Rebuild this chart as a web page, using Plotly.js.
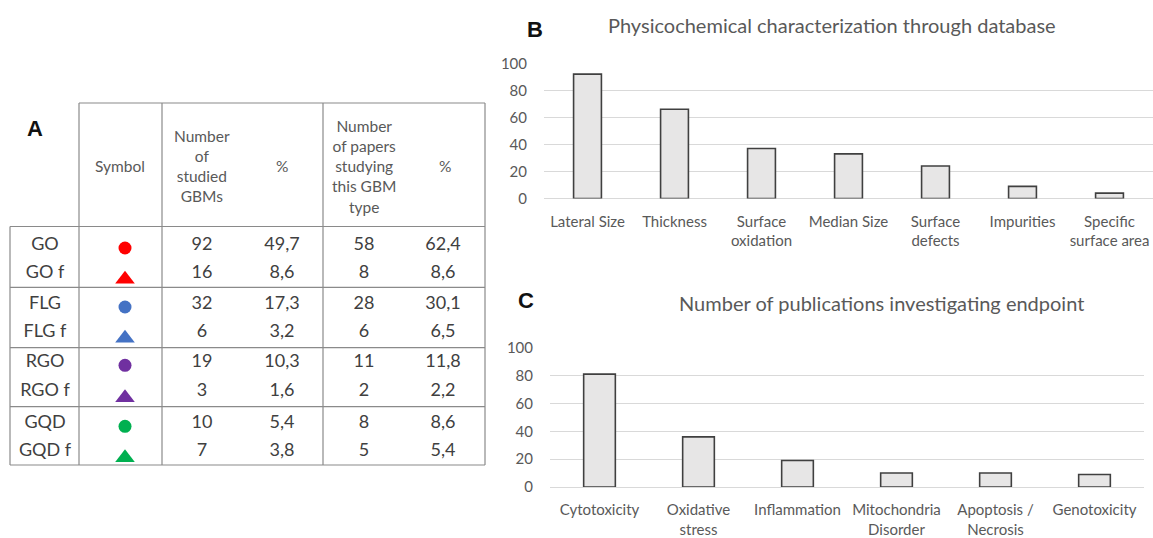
<!DOCTYPE html>
<html>
<head>
<meta charset="utf-8">
<script src="https://cdn.plot.ly/plotly-3.0.1.min.js"></script>
<style>
  html, body { margin: 0; padding: 0; background: #ffffff; }
  #chart { width: 1153px; height: 538px; }
</style>
</head>
<body>
<div id="chart"></div>
<script>
// ---------------- DATA ----------------
// Panel A (table)
const gbmTypes = ['GO', 'GO f', 'FLG', 'FLG f', 'RGO', 'RGO f', 'GQD', 'GQD f'];
const symbolShapes = ['circle', 'triangle-up', 'circle', 'triangle-up', 'circle', 'triangle-up', 'circle', 'triangle-up'];
const symbolColors = ['#FF0000', '#FF0000', '#4472C4', '#4472C4', '#7030A0', '#7030A0', '#00B050', '#00B050'];
const studiedGBMs = [92, 16, 32, 6, 19, 3, 10, 7];
const studiedPct = ['49,7', '8,6', '17,3', '3,2', '10,3', '1,6', '5,4', '3,8'];
const papersStudying = [58, 8, 28, 6, 11, 2, 8, 5];
const papersPct = ['62,4', '8,6', '30,1', '6,5', '11,8', '2,2', '8,6', '5,4'];
const tableHeaders = ['Symbol', 'Number<br>of<br>studied<br>GBMs', '%', 'Number<br>of papers<br>studying<br>this GBM<br>type', '%'];

// Panel B
const physCategories = ['Lateral Size', 'Thickness', 'Surface<br>oxidation', 'Median Size', 'Surface<br>defects', 'Impurities', 'Specific<br>surface area'];
const physValues = [92, 66, 37, 33, 24, 9, 4];

// Panel C
const endpointCategories = ['Cytotoxicity', 'Oxidative<br>stress', 'Inflammation', 'Mitochondria<br>Disorder', 'Apoptosis /<br>Necrosis', 'Genotoxicity'];
const endpointValues = [81, 36, 19, 10, 10, 9];

const yTicks = [0, 20, 40, 60, 80, 100];

// ---------------- LAYOUT CONSTANTS ----------------
const W = 1153, H = 538;
const px = x => x / W;
const py = y => 1 - y / H;

// table geometry (pixel-like coordinates on the table's own axes)
const colX = { name: 45, symbol: 125, studied: 202, studiedPct: 282, papers: 364, papersPct: 443 };
const rowY = [245, 273.3, 304, 332.3, 362.3, 391.7, 423.3, 451.7];
const headerX = [120, 202, 282, 364, 445];
const headerY = 166;
const markerOffset = { 'circle': 3, 'triangle-up': 6 };

const tableFont = { family: 'Lato, "Open Sans", sans-serif', size: 18, color: '#404040' };
const headerFont = { family: 'Lato, "Open Sans", sans-serif', size: 15.5, color: '#595959' };
const axisFont = { family: 'Lato, "Open Sans", sans-serif', size: 15, color: '#595959' };

function textTrace(xPos, texts) {
  return {
    type: 'scatter', mode: 'text', xaxis: 'x3', yaxis: 'y3',
    x: texts.map(() => xPos), y: rowY.slice(0, texts.length),
    text: texts.map(String), textposition: 'middle center',
    textfont: tableFont, hoverinfo: 'skip', showlegend: false
  };
}

const traces = [
  {
    type: 'bar', x: physCategories, y: physValues, xaxis: 'x', yaxis: 'y',
    marker: { color: '#E7E6E6', line: { color: '#404040', width: 1.6 } },
    showlegend: false, hoverinfo: 'x+y'
  },
  {
    type: 'bar', x: endpointCategories, y: endpointValues, xaxis: 'x2', yaxis: 'y2',
    marker: { color: '#E7E6E6', line: { color: '#404040', width: 1.6 } },
    showlegend: false, hoverinfo: 'x+y'
  },
  textTrace(colX.name, gbmTypes),
  textTrace(colX.studied, studiedGBMs),
  textTrace(colX.studiedPct, studiedPct),
  textTrace(colX.papers, papersStudying),
  textTrace(colX.papersPct, papersPct),
  {
    type: 'scatter', mode: 'markers', xaxis: 'x3', yaxis: 'y3',
    x: gbmTypes.map(() => colX.symbol),
    y: rowY.map((y, i) => y + markerOffset[symbolShapes[i]]),
    marker: {
      symbol: symbolShapes, color: symbolColors, opacity: 1,
      size: symbolShapes.map(s => s === 'circle' ? 13 : 17),
      line: { width: 0 }
    },
    opacity: 1,
    text: gbmTypes, hoverinfo: 'text', showlegend: false
  }
];

// table lines
const lineStyle = { color: '#8a8a8a', width: 1.2 };
const hLines = [
  [103, 79, 485], [226.5, 10, 485], [287.3, 10, 485], [347.7, 10, 485], [406.7, 10, 485], [465, 10, 485]
];
const vLines = [
  [10, 226.5, 465], [79, 103, 465], [162, 103, 465], [323, 103, 465], [485, 103, 465]
];
const shapes = [];
hLines.forEach(([y, x0, x1]) => shapes.push({ type: 'line', xref: 'x3', yref: 'y3', x0, x1, y0: y, y1: y, line: lineStyle }));
vLines.forEach(([x, y0, y1]) => shapes.push({ type: 'line', xref: 'x3', yref: 'y3', x0: x, x1: x, y0, y1, line: lineStyle }));

const annotations = [];
tableHeaders.forEach((t, i) => annotations.push({
  xref: 'x3', yref: 'y3', x: headerX[i], y: headerY, text: t, showarrow: false,
  xanchor: 'center', yanchor: 'middle', align: 'center', font: headerFont
}));
const letterFont = { family: '"Liberation Sans", Arial, sans-serif', size: 22, color: '#111111' };
annotations.push({ xref: 'paper', yref: 'paper', x: px(35), y: py(128), text: '<b>A</b>', showarrow: false, xanchor: 'center', yanchor: 'middle', font: letterFont });
annotations.push({ xref: 'paper', yref: 'paper', x: px(535), y: py(29), text: '<b>B</b>', showarrow: false, xanchor: 'center', yanchor: 'middle', font: letterFont });
annotations.push({ xref: 'paper', yref: 'paper', x: px(526), y: py(300), text: '<b>C</b>', showarrow: false, xanchor: 'center', yanchor: 'middle', font: letterFont });
const titleFont = { family: 'Lato, "Open Sans", sans-serif', size: 20, color: '#595959' };
annotations.push({ xref: 'paper', yref: 'paper', x: px(832), y: py(25), text: 'Physicochemical characterization through database', showarrow: false, xanchor: 'center', yanchor: 'middle', font: titleFont });
annotations.push({ xref: 'paper', yref: 'paper', x: px(881), y: py(303), text: 'Number of publications investigating endpoint', showarrow: false, xanchor: 'center', yanchor: 'middle', font: titleFont });

const catAxis = (domain, anchor) => ({
  domain, anchor, type: 'category', showgrid: false, showline: false, zeroline: false,
  ticks: '', tickfont: axisFont, ticklabelstandoff: 12, fixedrange: true, automargin: false
});
const valAxis = (domain, anchor) => ({
  domain, anchor, range: [0, 100], tickvals: yTicks, showgrid: true, gridcolor: '#D9D9D9', gridwidth: 1,
  zeroline: true, zerolinecolor: '#D9D9D9', zerolinewidth: 1, showline: false,
  ticks: '', tickfont: axisFont, ticklabelstandoff: 16, fixedrange: true, automargin: false
});

const layout = {
  width: W, height: H,
  margin: { l: 0, r: 0, t: 0, b: 0 },
  paper_bgcolor: '#ffffff', plot_bgcolor: 'rgba(0,0,0,0)',
  font: { family: 'Lato, "Open Sans", sans-serif', color: '#595959' },
  showlegend: false,
  bargap: 0.68,
  xaxis: catAxis([px(544), 1], 'y'),
  yaxis: valAxis([py(198.5), py(63.3)], 'x'),
  xaxis2: catAxis([px(550), px(1144)], 'y2'),
  yaxis2: valAxis([py(487), py(347.7)], 'x2'),
  xaxis3: { domain: [0, px(500)], range: [0, 500], anchor: 'y3', visible: false, fixedrange: true },
  yaxis3: { domain: [0, 1], range: [538, 0], anchor: 'x3', visible: false, fixedrange: true },
  shapes, annotations
};

Plotly.newPlot('chart', traces, layout, { displayModeBar: false, responsive: false });
</script>
</body>
</html>
